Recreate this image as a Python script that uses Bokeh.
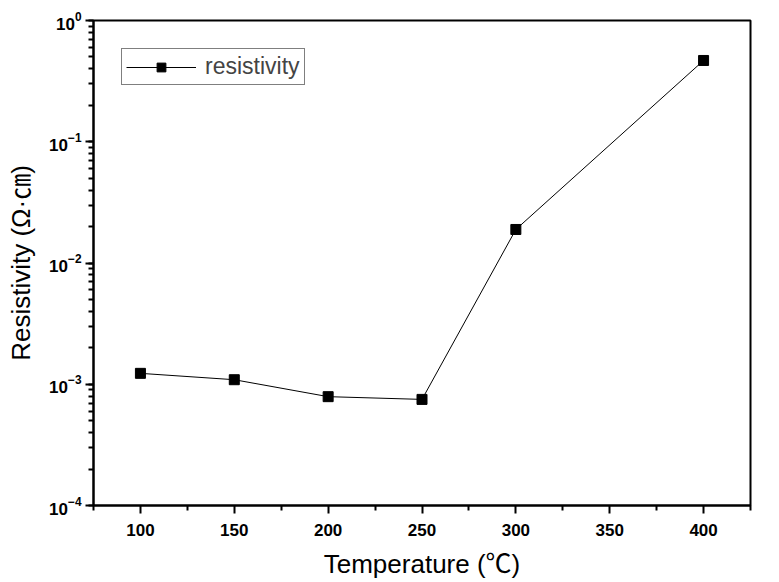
from bokeh.plotting import figure
from bokeh.models import FixedTicker, LogTicker, Legend, LegendItem
from bokeh.embed import file_html
from bokeh.resources import INLINE

temperature = [100, 150, 200, 250, 300, 400]
resistivity = [1.23e-3, 1.09e-3, 7.9e-4, 7.5e-4, 1.89e-2, 0.468]
x_major = [100, 150, 200, 250, 300, 350, 400]
x_minor = [75, 125, 175, 225, 275, 325, 375, 425]

FONT = "Liberation Sans, Arial, Noto Sans CJK KR"

p = figure(width=779, height=582, x_range=(75, 425), y_range=(1e-4, 1e0),
           y_axis_type="log", output_backend="svg", toolbar_location=None,
           min_border_left=93, min_border_right=29, min_border_top=20,
           min_border_bottom=77)
p.grid.visible = False
p.background_fill_color = "white"
p.border_fill_color = "white"
p.outline_line_color = "black"
p.outline_line_width = 2

line = p.line(temperature, resistivity, line_color="black", line_width=1)
pts = p.scatter(temperature, resistivity, marker="square", size=10,
                fill_color="black", line_color="black")

p.xaxis.ticker = FixedTicker(ticks=x_major, minor_ticks=x_minor)
p.yaxis.ticker = LogTicker(num_minor_ticks=10)

for ax in (p.xaxis, p.yaxis):
    ax.axis_line_width = 2
    ax.axis_line_color = "black"
    ax.major_tick_line_width = 2
    ax.minor_tick_line_width = 2
    ax.major_tick_out = 8
    ax.major_tick_in = 0
    ax.minor_tick_out = 5
    ax.minor_tick_in = 0
    ax.major_label_text_font = FONT
    ax.major_label_text_font_style = "bold"
    ax.major_label_text_font_size = "17px"
    ax.major_label_text_color = "black"
    ax.axis_label_text_font = FONT
    ax.axis_label_text_font_style = "normal"
    ax.axis_label_text_font_size = "26px"
    ax.axis_label_text_color = "black"

p.xaxis.axis_label = "Temperature (℃)"
p.yaxis.axis_label = "Resistivity (Ω·㎝)"
p.xaxis.major_label_standoff = 10
p.xaxis.axis_label_standoff = 10
p.yaxis.major_label_standoff = 4
p.yaxis.axis_label_standoff = 10

legend = Legend(items=[LegendItem(label="resistivity", renderers=[line, pts])],
                location="top_left", margin=28, padding=4, glyph_width=70,
                glyph_height=22, label_standoff=9,
                label_text_font=FONT, label_text_font_size="23px",
                border_line_color="black", border_line_width=1,
                background_fill_alpha=1.0)
p.add_layout(legend)

open("out.html", "w").write(file_html(p, INLINE))
